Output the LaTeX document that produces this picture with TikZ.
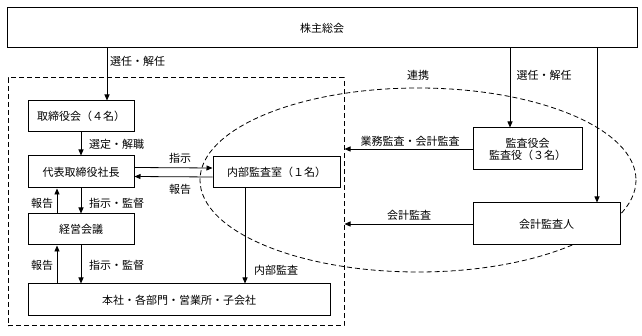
\documentclass[tikz,border=0pt]{standalone}
\usepackage{fontspec}
\setmainfont{Noto Sans CJK JP}
\usetikzlibrary{arrows.meta,positioning,calc}

\begin{document}
\begin{tikzpicture}[x=1pt, y=-1pt,
    box/.style={rectangle, draw, line width=1pt, fill=white, inner sep=0pt,
                align=center, font=\fontsize{11}{14}\selectfont},
    grpbox/.style={rectangle, draw, dash pattern=on 5pt off 3pt, line width=1pt, inner sep=0pt},
    lbl/.style={font=\fontsize{11}{13}\selectfont, inner sep=1pt},
    arr/.style={-{Triangle[length=6pt,width=5pt]}, line width=0.8pt}
]
\useasboundingbox (0,0) rectangle (642,336);

% group and the ellipse behind the boxes
\node[grpbox, minimum width=336, minimum height=248] (grp) at (176,202) {};
\draw[dash pattern=on 5pt off 3pt, line width=0.8pt] (418,180) ellipse (218 and 92);

% boxes
\node[box, minimum width=630, minimum height=40] (kabu) at (322,28) {株主総会};
\node[box, minimum width=106, minimum height=31] (tri) at (81,116.5) {取締役会（４名）};
\node[box, minimum width=106, minimum height=32] (daihyo) at (81,172) {代表取締役社長};
\node[box, minimum width=106, minimum height=31] (keiei) at (81,229.5) {経営会議};
\node[box, minimum width=302, minimum height=32] (honsha) at (179,300) {本社・各部門・営業所・子会社};
\node[box, minimum width=127, minimum height=31] (naibu) at (276.5,172.5) {内部監査室（１名）};
\node[box, minimum width=109, minimum height=42] (kansa) at (527.5,149) {監査役会\\[-2pt]監査役（３名）};
\node[box, minimum width=147, minimum height=42] (kaikei) at (546.5,224) {会計監査人};

% connector ends
\coordinate (tritop) at ($(tri.north)+(26,0)$);
\coordinate (kansatop) at ($(kansa.north)+(-17.5,0)$);
\coordinate (kaikeitop) at ($(kaikei.north)+(50.5,0)$);
\coordinate (naibubot) at ($(naibu.south)+(-31.5,0)$);
\coordinate (daihyobot) at ($(daihyo.south)+(-24,0)$);
\coordinate (keieibot) at ($(keiei.south)+(-24,0)$);

% arrows
\draw[arr] (kabu.south -| tritop) -- (tritop);
\draw[arr] (kabu.south -| kansatop) -- (kansatop);
\draw[arr] (kabu.south -| kaikeitop) -- (kaikeitop);
\draw[arr] (tri.south) -- (daihyo.north);
\draw[arr] ([yshift=4.5pt]daihyo.east) -- ([yshift=4.5pt]naibu.west);
\draw[arr] ([yshift=-4.5pt]naibu.west) -- ([yshift=-4.5pt]daihyo.east);
\draw[arr] (daihyo.south) -- (keiei.north);
\draw[arr] (keiei.north -| daihyobot) -- (daihyobot);
\draw[arr] (keiei.south) -- (honsha.north -| keiei.south);
\draw[arr] (honsha.north -| keieibot) -- (keieibot);
\draw[arr] (naibubot) -- (honsha.north -| naibubot);
\draw[arr] (kansa.west) -- (grp.east |- kansa.west);
\draw[arr] (kaikei.west) -- (grp.east |- kaikei.west);

% labels
\node[lbl, anchor=west] (l1) at (109,61) {選任・解任};
\node[lbl] (l2) at (544,75) {選任・解任};
\node[lbl] (l3) at (418,75) {連携};
\node[lbl, anchor=west] (l4) at (88,144) {選定・解職};
\node[lbl] (l5) at (180,158) {指示};
\node[lbl] (l6) at (180,189) {報告};
\node[lbl] (l7) at (42,203) {報告};
\node[lbl, anchor=west] (l8) at (88,203) {指示・監督};
\node[lbl] (l9) at (42,265) {報告};
\node[lbl, anchor=west] (l10) at (88,265) {指示・監督};
\node[lbl] (l11) at (276,270) {内部監査};
\node[lbl] (l12) at (410,141) {業務監査・会計監査};
\node[lbl] (l13) at (409,215) {会計監査};

\end{tikzpicture}
\end{document}
